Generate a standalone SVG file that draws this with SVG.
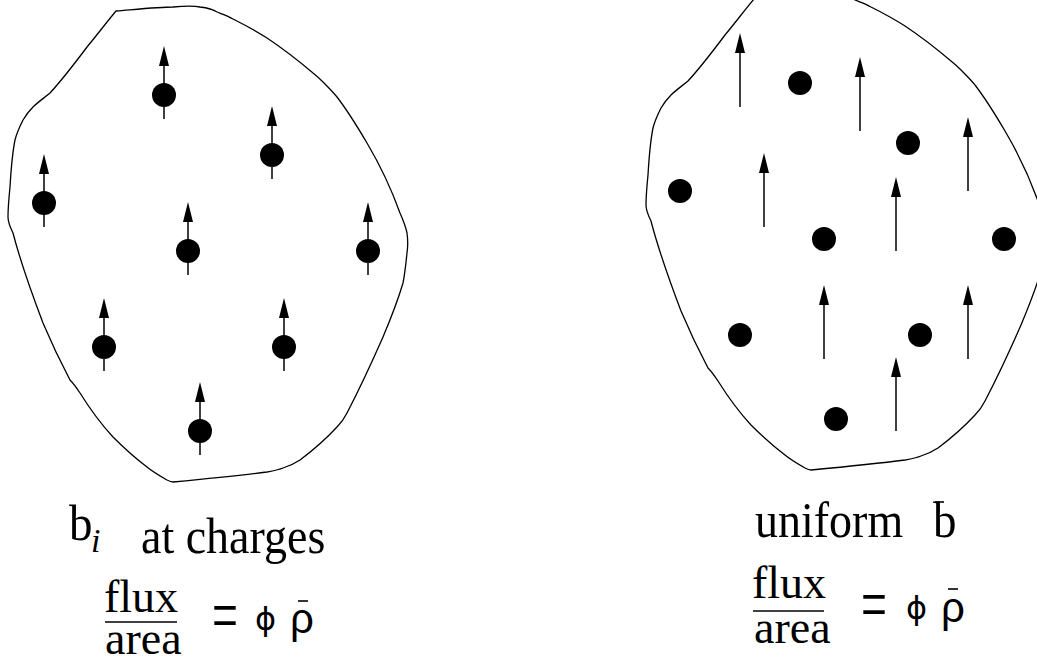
<svg xmlns="http://www.w3.org/2000/svg" width="1037" height="667" viewBox="0 0 1037 667">
<style>
.blob{fill:none;stroke:#000;stroke-width:1.3}
.dot{fill:#000}
.arr{stroke:#000;stroke-width:1.5;fill:none;marker-end:url(#ah)}
.rule{stroke:#000;stroke-width:1.6}
.tm{font-family:"Liberation Serif","Times New Roman",serif;font-size:46px;fill:#000}
.eq{font-family:"Liberation Serif","Times New Roman",serif;font-size:46px;fill:#000}
.sym{font-family:"Liberation Sans",Arial,sans-serif;font-size:42px;fill:#000}
.phi{font-family:"DejaVu Sans",sans-serif;font-size:32px;fill:#000}
</style>
<defs>
<marker id="ah" markerUnits="userSpaceOnUse" markerWidth="20" markerHeight="10" refX="2" refY="5" orient="auto">
<path d="M0,0 L20,5 L0,10 z" fill="#000"/>
</marker>
<path id="shape" d="M116,11 C140,9 160,7 173,7 C185,6 195,6 200,7 C208,8 214,10 217,12 C222,14 228,16 233,19 C245,25 256,31 267,38 C285,50 300,62 313,73 C318,77 321,80 323,82 C328,87 333,92 337,97 C347,110 357,126 367,143 C380,165 391,188 400,213 C404,222 406,228 407,233 C408,240 408,246 407,253 C406,263 405,273 403,283 C398,300 391,318 383,337 C372,362 360,388 347,413 C344,419 341,423 337,427 C325,440 312,451 300,460 C294,464 289,466 283,468 C278,470 272,471 267,472 C235,476 204,479 173,482 C171,482 169,481 167,480 C160,476 153,472 147,467 C135,458 124,448 113,437 C101,424 90,409 80,393 C76,387 73,383 70,380 C60,361 51,342 43,323 C32,294 21,264 13,233 C10,227 8,222 8,217 C8,207 9,197 10,187 C11,170 12,155 15,140 C17,132 20,126 23,120 C26,115 29,111 33,107 C38,102 44,98 50,93 C62,80 75,63 87,47 C97,35 106,23 116,11 Z"/>
</defs>
<g id="left-region">
<use href="#shape" class="blob"/>
</g>
<g id="right-region">
<use href="#shape" class="blob" transform="translate(638,-12)"/>
</g>
<g id="left-charges">
<circle class="dot" cx="164" cy="95" r="12"/>
<circle class="dot" cx="272" cy="155" r="12"/>
<circle class="dot" cx="44" cy="203" r="12"/>
<circle class="dot" cx="188" cy="251" r="12"/>
<circle class="dot" cx="368" cy="251" r="12"/>
<circle class="dot" cx="104" cy="347" r="12"/>
<circle class="dot" cx="284" cy="347" r="12"/>
<circle class="dot" cx="200" cy="431" r="12"/>
</g>
<g id="right-charges">
<circle class="dot" cx="800" cy="83" r="12"/>
<circle class="dot" cx="908" cy="143" r="12"/>
<circle class="dot" cx="680" cy="191" r="12"/>
<circle class="dot" cx="824" cy="239" r="12"/>
<circle class="dot" cx="1004" cy="239" r="12"/>
<circle class="dot" cx="740" cy="335" r="12"/>
<circle class="dot" cx="920" cy="335" r="12"/>
<circle class="dot" cx="836" cy="419" r="12"/>
</g>
<g id="connectors">
<path class="arr" d="M164,119 V64"/>
<path class="arr" d="M272,179 V124"/>
<path class="arr" d="M44,227 V172"/>
<path class="arr" d="M188,275 V220"/>
<path class="arr" d="M368,275 V220"/>
<path class="arr" d="M104,371 V316"/>
<path class="arr" d="M284,371 V316"/>
<path class="arr" d="M200,455 V400"/>
<path class="arr" d="M740,107 V51"/>
<path class="arr" d="M860,131 V75"/>
<path class="arr" d="M968,191 V135"/>
<path class="arr" d="M764,227 V171"/>
<path class="arr" d="M896,251 V195"/>
<path class="arr" d="M824,359 V303"/>
<path class="arr" d="M968,359 V303"/>
<path class="arr" d="M896,431 V375"/>
</g>
<g id="left-label">
<text class="tm" transform="translate(69,540) scale(1,1.1)" style="font-size:47px">b</text>
<text class="tm" x="91" y="552" font-style="italic" style="font-size:34px">i</text>
<text class="tm" transform="translate(141,553) scale(1,1.1)">at charges</text>
<text class="tm" x="104" y="612">flux</text>
<line class="rule" x1="105" y1="622" x2="177" y2="622"/>
<text class="tm" x="105" y="654">area</text>
<text class="eq" transform="translate(212,641) scale(1,1.65)">=</text>
<text class="phi" x="255" y="630">ϕ</text>
<text class="sym" x="290" y="633">ρ</text>
<line class="rule" x1="298" y1="601" x2="308" y2="601"/>
</g>
<g id="right-label">
<text class="tm" transform="translate(755,537) scale(1,1.1)">uniform</text>
<text class="tm" transform="translate(933,537) scale(1,1.1)" style="font-size:47px">b</text>
<line class="rule" x1="935" y1="502" x2="944" y2="502"/>
<text class="tm" x="752" y="598">flux</text>
<line class="rule" x1="753" y1="611" x2="824" y2="611"/>
<text class="tm" x="754" y="643">area</text>
<text class="eq" transform="translate(861,630) scale(1,1.65)">=</text>
<text class="phi" x="906" y="619">ϕ</text>
<text class="sym" x="941" y="622">ρ</text>
<line class="rule" x1="948" y1="589" x2="958" y2="589"/>
</g>
</svg>
